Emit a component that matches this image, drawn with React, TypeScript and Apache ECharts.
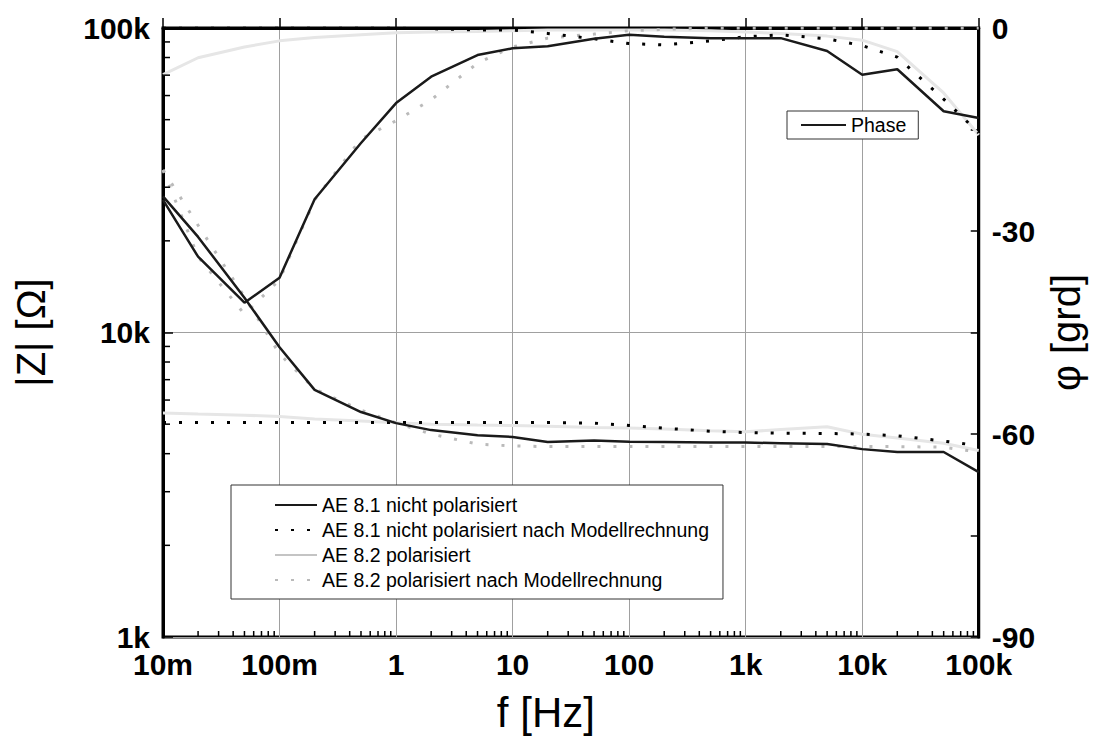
import React, { useEffect, useRef } from "react";
import * as echarts from "echarts";

// Measurement frequencies in Hz (1-2-5 per decade)
const frequencies = [
  0.01, 0.02, 0.05, 0.1, 0.2, 0.5, 1, 2, 5, 10, 20, 50, 100, 200, 500, 1000,
  2000, 5000, 10000, 20000, 50000, 100000,
];

// |Z| in ohm
const impedance81 = [
  28000, 20600, 13000, 8950, 6480, 5480, 5040, 4780, 4600, 4540, 4370, 4420,
  4380, 4370, 4350, 4350, 4330, 4300, 4140, 4050, 4050, 3480,
];
const impedance81Model = [
  5060, 5060, 5060, 5060, 5060, 5060, 5060, 5060, 5060, 5060, 5060, 5040, 4950,
  4850, 4740, 4690, 4670, 4660, 4640, 4580, 4400, 4250,
];
const impedance82 = [
  5440, 5400, 5350, 5300, 5200, 5120, 5050, 5000, 4970, 4950, 4920, 4880, 4860,
  4820, 4760, 4720, 4800, 4900, 4630, 4500, 4330, 4100,
];
const impedance82Model = [
  34200, 22500, 13100, 8500, 6520, 5560, 5050, 4640, 4300, 4240, 4220, 4220,
  4220, 4220, 4220, 4220, 4220, 4220, 4220, 4220, 4200, 4050,
];

// phase in degrees
const phase81 = [
  -25.4, -33.8, -40.6, -36.9, -25.3, -17.0, -11.1, -7.2, -4.0, -3.0, -2.7,
  -1.6, -1.0, -1.3, -1.5, -1.5, -1.5, -3.4, -6.9, -6.1, -12.3, -13.3,
];
const phase81Model = [
  0, 0, 0, 0, 0, 0, 0, -0.1, -0.3, -0.3, -0.8, -1.6, -2.3, -2.5, -1.9, -1.3,
  -1.0, -1.6, -2.6, -4.3, -10.5, -15.5,
];
const phase82 = [
  -6.9, -4.4, -2.8, -1.9, -1.4, -1.0, -0.7, -0.6, -0.5, -0.4, -0.3, -0.3, -0.3,
  -0.3, -0.4, -0.6, -0.8, -1.2, -1.8, -3.5, -9.6, -15.8,
];
const phase82Model = [
  -21.0, -33.8, -42.3, -37.2, -25.4, -16.4, -13.7, -10.6, -5.2, -2.8, -1.5,
  -0.9, -0.4, -0.2, 0, 0, 0, 0, 0, 0, 0, 0,
];

const freqTickLabels = ["10m", "100m", "1", "10", "100", "1k", "10k", "100k"];
const impedanceTickLabels = ["1k", "10k", "100k"];

const FONT = "'Liberation Sans', Arial, sans-serif";

// minor log ticks (2..9 of every decade)
const minorFreqTicks: number[] = [];
for (let d = -2; d <= 4; d++) {
  for (let k = 2; k <= 9; k++) minorFreqTicks.push(k * Math.pow(10, d));
}
const minorImpTicks: number[] = [];
for (let d = 3; d <= 4; d++) {
  for (let k = 2; k <= 9; k++) minorImpTicks.push(k * Math.pow(10, d));
}

const pairs = (ys: number[]) => frequencies.map((f, i) => [f, ys[i]]);

function lineSeries(
  name: string,
  ys: number[],
  yAxisIndex: number,
  color: string,
  width: number,
  dotted: boolean,
  z: number
) {
  return {
    type: "line",
    name,
    data: pairs(ys),
    xAxisIndex: 0,
    yAxisIndex,
    symbol: "none",
    showSymbol: false,
    silent: true,
    z,
    itemStyle: { color },
    lineStyle: dotted
      ? { color, width: 3, type: [3, 13], cap: "butt" }
      : { color, width },
  };
}

const legendText = {
  color: "#000",
  fontSize: 19.5,
  lineHeight: 18,
  fontFamily: FONT,
};

export default function App() {
  const ref = useRef<HTMLDivElement>(null);

  useEffect(() => {
    if (!ref.current) return;
    const chart = echarts.init(ref.current, undefined, { renderer: "svg" });

    const option = {
      animation: false,
      backgroundColor: "#fff",
      grid: {
        left: 163,
        right: 104,
        top: 28,
        bottom: 105,
        show: true,
        borderColor: "#000",
        borderWidth: 3,
      },
      xAxis: {
        type: "log",
        logBase: 10,
        min: 0.01,
        max: 100000,
        splitNumber: 7,
        axisLine: { show: true, lineStyle: { color: "#000", width: 3 } },
        axisTick: {
          show: true,
          inside: true,
          length: 10,
          lineStyle: { color: "#000", width: 1.5 },
        },
        splitLine: { show: true, lineStyle: { color: "#a0a0a0", width: 1 } },
        axisLabel: {
          showMinLabel: true,
          showMaxLabel: true,
          margin: 12,
          color: "#000",
          fontSize: 30,
          fontWeight: "bold",
          fontFamily: FONT,
          formatter: (v: number) =>
            freqTickLabels[Math.round(Math.log10(v)) + 2] ?? "",
        },
        name: "f [Hz]",
        nameLocation: "middle",
        nameGap: 54,
        nameTextStyle: {
          color: "#000",
          fontSize: 42,
          fontFamily: FONT,
          padding: [0, 50, 0, 0],
        },
      },
      yAxis: [
        {
          type: "log",
          logBase: 10,
          min: 1000,
          max: 100000,
          splitNumber: 2,
          position: "left",
          axisLine: { show: true, lineStyle: { color: "#000", width: 3 } },
          axisTick: {
            show: true,
            inside: true,
            length: 10,
            lineStyle: { color: "#000", width: 1.5 },
          },
          splitLine: { show: true, lineStyle: { color: "#a0a0a0", width: 1 } },
          axisLabel: {
            showMinLabel: true,
            showMaxLabel: true,
            margin: 13,
            color: "#000",
            fontSize: 30,
            fontWeight: "bold",
            fontFamily: FONT,
            formatter: (v: number) =>
              impedanceTickLabels[Math.round(Math.log10(v)) - 3] ?? "",
          },
          name: "|Z| [Ω]",
          nameLocation: "middle",
          nameRotate: 90,
          nameGap: 112,
          nameTextStyle: { color: "#000", fontSize: 40, fontFamily: FONT },
        },
        {
          type: "value",
          min: -90,
          max: 0,
          interval: 15,
          position: "right",
          axisLine: { show: true, lineStyle: { color: "#000", width: 3 } },
          axisTick: {
            show: true,
            inside: true,
            length: 8,
            lineStyle: { color: "#000", width: 1.5 },
          },
          splitLine: { show: false },
          axisLabel: {
            showMinLabel: true,
            showMaxLabel: true,
            margin: 13,
            color: "#000",
            fontSize: 30,
            fontWeight: "bold",
            fontFamily: FONT,
            formatter: (v: number) => (v % 30 === 0 ? String(v) : ""),
          },
          name: "φ [grd]",
          nameLocation: "middle",
          nameRotate: 90,
          nameGap: 49,
          nameTextStyle: { color: "#000", fontSize: 40, fontFamily: FONT },
        },
      ],
      legend: [
        {
          data: [
            { name: "AE 8.1 nicht polarisiert" },
            { name: "AE 8.1 nicht polarisiert nach Modellrechnung" },
            { name: "AE 8.2 polarisiert", lineStyle: { color: "#c4c4c4" } },
            { name: "AE 8.2 polarisiert nach Modellrechnung" },
          ],
          orient: "vertical",
          left: 231,
          top: 485,
          itemWidth: 42,
          itemHeight: 14,
          itemGap: 5,
          padding: [10, 14, 9, 43],
          borderColor: "#333",
          borderWidth: 1,
          backgroundColor: "#fff",
          selectedMode: false,
          itemStyle: { opacity: 0, borderWidth: 0 },
          textStyle: legendText,
        },
        {
          data: [{ name: "Phase" }],
          orient: "vertical",
          left: 787,
          top: 111,
          itemWidth: 45,
          itemHeight: 14,
          padding: [4, 12, 4, 13],
          borderColor: "#333",
          borderWidth: 1,
          backgroundColor: "#fff",
          selectedMode: false,
          itemStyle: { opacity: 0, borderWidth: 0 },
          textStyle: legendText,
        },
      ],
      series: [
        lineSeries("AE 8.2 polarisiert", impedance82, 0, "#e6e6e6", 3, false, 2),
        lineSeries("AE 8.2 phase", phase82, 1, "#e6e6e6", 3, false, 2),
        lineSeries(
          "AE 8.2 polarisiert nach Modellrechnung",
          impedance82Model,
          0,
          "#bababa",
          3,
          true,
          3
        ),
        lineSeries("AE 8.2 phase model", phase82Model, 1, "#bababa", 3, true, 3),
        lineSeries(
          "AE 8.1 nicht polarisiert nach Modellrechnung",
          impedance81Model,
          0,
          "#000",
          3,
          true,
          4
        ),
        lineSeries("AE 8.1 phase model", phase81Model, 1, "#000", 3, true, 4),
        lineSeries("AE 8.1 nicht polarisiert", impedance81, 0, "#1a1a1a", 2.5, false, 5),
        lineSeries("Phase", phase81, 1, "#1a1a1a", 2.5, false, 5),
        {
          type: "custom",
          name: "minor frequency ticks",
          xAxisIndex: 0,
          yAxisIndex: 0,
          silent: true,
          z: 6,
          data: minorFreqTicks.map((f) => [f, 1000]),
          renderItem: (_p: any, api: any) => {
            const pt = api.coord([api.value(0), api.value(1)]);
            return {
              type: "line",
              shape: { x1: pt[0], y1: pt[1], x2: pt[0], y2: pt[1] - 6 },
              style: { stroke: "#000", lineWidth: 1.5 },
            };
          },
        },
        {
          type: "custom",
          name: "minor impedance ticks",
          xAxisIndex: 0,
          yAxisIndex: 0,
          silent: true,
          z: 6,
          data: minorImpTicks.map((v) => [0.01, v]),
          renderItem: (_p: any, api: any) => {
            const pt = api.coord([api.value(0), api.value(1)]);
            return {
              type: "line",
              shape: { x1: pt[0], y1: pt[1], x2: pt[0] + 7, y2: pt[1] },
              style: { stroke: "#000", lineWidth: 1.5 },
            };
          },
        },
      ],
    };

    chart.setOption(option as any);
    return () => chart.dispose();
  }, []);

  return (
    <div
      ref={ref}
      style={{ position: "absolute", left: 0, top: 0, width: 1094, height: 742 }}
    />
  );
}
